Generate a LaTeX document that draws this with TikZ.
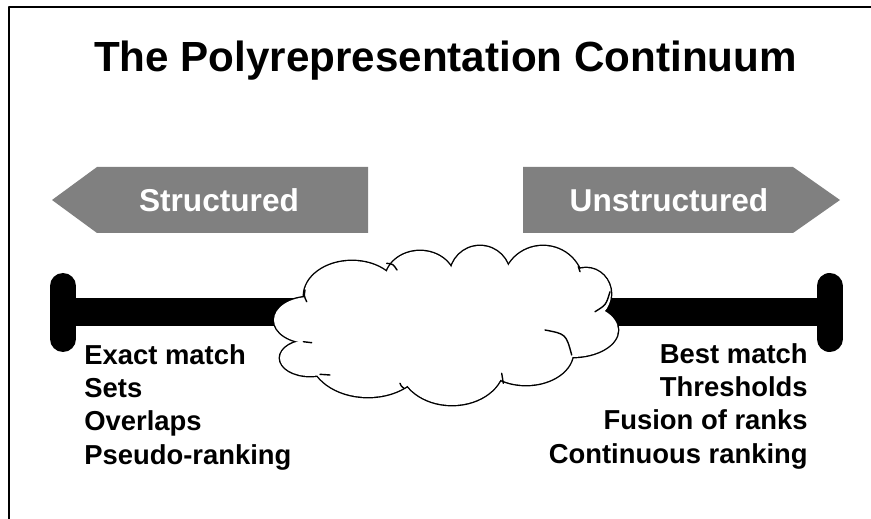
\documentclass[tikz,border=0pt]{standalone}
\usepackage{fontspec}
\setmainfont{Liberation Sans}
\usetikzlibrary{calc}
\definecolor{bandgray}{HTML}{808080}

\begin{document}
\begin{tikzpicture}[x=0.02cm, y=-0.02cm, line cap=round, line join=round,
    label/.style={inner sep=0pt, font=\bfseries\fontsize{15.6}{18.8}\selectfont},
    bandtext/.style={inner sep=0pt, text=white, font=\bfseries\fontsize{18}{21}\selectfont},
    puffline/.style={line width=0.8pt}]
  \useasboundingbox (0,0) rectangle (871,519);

  % frame (top and left edges only)
  \draw[line width=1.2pt, line cap=butt] (9,519) -- (9,7) -- (871,7);

  % title
  \node[inner sep=0pt, anchor=base, font=\bfseries\fontsize{24}{29}\selectfont]
    (title) at (445.5,72) {The Polyrepresentation Continuum};

  % direction bands
  \fill[bandgray] (52,200) -- (97,167) -- (368,167) -- (368,233) -- (97,233) -- cycle;
  \fill[bandgray] (523,167) -- (793,167) -- (840,200) -- (793,233) -- (523,233) -- cycle;
  \node[bandtext, anchor=base] (struct) at (219,212) {Structured};
  \node[bandtext, anchor=base] (unstruct) at (669,212) {Unstructured};

  % end points of the scale
  \coordinate (L) at (63,312);
  \coordinate (R) at (829.5,312);

  % scale
  \draw[line width=0.56cm, line cap=butt] (L) -- (R);
  \draw[line width=0.52cm] ($(L)+(0,-26)$) -- ($(L)+(0,27)$);
  \draw[line width=0.52cm] ($(R)+(0,-26)$) -- ($(R)+(0,27)$);

  % cloud: puffs outlined, then filled to hide the inner strokes
  \def\puffs{310/320/36/23, 352/296/48/35, 420/281/35/30, 480/276/30/30,
    543/285/40/39, 586/294/25/26, 572/330/46/27, 526/352/47/33,
    452/365/52/40, 368/355/58/42, 310/358/30/18}
  \foreach \cx/\cy/\rx/\ry in \puffs
    \draw[line width=1.6pt, fill=white] (\cx,\cy) ellipse [x radius=\rx, y radius=\ry];
  \foreach \cx/\cy/\rx/\ry in \puffs
    \fill[white] (\cx,\cy) ellipse [x radius=\rx, y radius=\ry];
  \fill[white] (446,322) ellipse [x radius=140, y radius=45];

  % inner puff edges
  \draw[puffline] (386.7,263.3) .. controls (393,264) .. (397,270);
  \draw[puffline] (578.3,266.7) .. controls (580,269) .. (580,271.7);
  \draw[puffline] (610,291.7) .. controls (606,305) .. (595,311.7);
  \draw[puffline] (545,330) .. controls (566,334) .. (571.7,355);
  \draw[puffline] (501.7,373.3) .. controls (503,378) .. (503.3,383.3);
  \draw[puffline] (400,383.3) .. controls (401,386) .. (404,388.3);
  \draw[puffline] (320,374.3) .. controls (325,375) .. (330,375);
  \draw[puffline] (303.3,341.7) .. controls (307,342.5) .. (311.7,342.7);
  \draw[puffline] (306.7,301.7) .. controls (304,296) .. (305,290);

  % left-hand methods
  \foreach \t [count=\i] in {Exact match, Sets, Overlaps, Pseudo-ranking}
    \node[label, anchor=base west] (l\i) at (84,{365+33*(\i-1)}) {\t};

  % right-hand methods
  \foreach \t [count=\i] in {Best match, Thresholds, Fusion of ranks, Continuous ranking}
    \node[label, anchor=base east] (r\i) at (808,{364+33*(\i-1)}) {\t};
\end{tikzpicture}
\end{document}
